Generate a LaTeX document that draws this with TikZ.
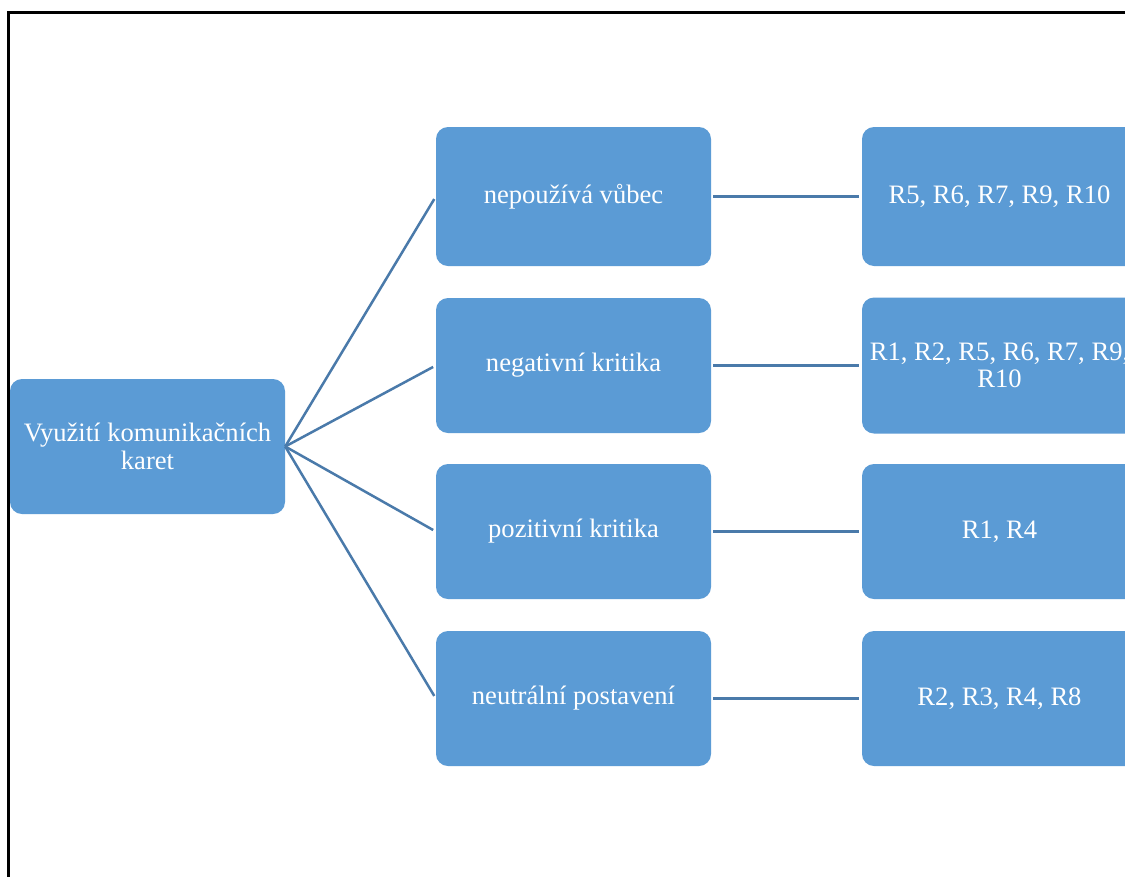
\documentclass[tikz,border=0pt]{standalone}
\usepackage{fontspec}
\setmainfont{Liberation Serif}
\definecolor{boxblue}{HTML}{5B9BD5}
\definecolor{lineblue}{HTML}{4A7AAA}
\begin{document}
\begin{tikzpicture}[x=1pt,y=-1pt,
  box/.style={fill=boxblue, draw=none, rounded corners=12pt, minimum width=275pt,
    inner sep=2pt, text=white, align=center,
    font=\fontsize{26.6}{27.5}\selectfont},
  link/.style={draw=lineblue, line width=2.5pt}]
\useasboundingbox (0,0) rectangle (1125,876);
\clip (0,0) rectangle (1125,876);
\fill[white] (0,0) rectangle (1125,876);
\draw[black, line width=2.4pt] (8.5,880) -- (8.5,12.5) -- (1130,12.5);

\node[box, minimum height=135pt] (root) at (147.5,446.5) {Využití komunikačních\\karet};

\node[box, minimum height=139pt] (m1) at (573.5,196.5) {nepoužívá vůbec};
\node[box, minimum height=135pt] (m2) at (573.5,365.5) {negativní kritika};
\node[box, minimum height=135pt] (m3) at (573.5,531.5) {pozitivní kritika};
\node[box, minimum height=135pt] (m4) at (573.5,698.5) {neutrální postavení};

\node[box, minimum height=139pt] (r1) at (999.5,196.5) {R5, R6, R7, R9, R10};
\node[box, minimum height=136pt] (r2) at (999.5,365.5) {R1, R2, R5, R6, R7, R9,\\R10};
\node[box, minimum height=135pt] (r3) at (999.5,531.5) {R1, R4};
\node[box, minimum height=135pt] (r4) at (999.5,698.5) {R2, R3, R4, R8};

\foreach \m in {m1,m2,m3,m4}{
  \draw[link, shorten >=3pt] (root.east) -- (\m.west);
}
\draw[link, shorten <=2pt, shorten >=3pt] (m1.east) -- (r1.west);
\draw[link, shorten <=2pt, shorten >=3pt] (m2.east) -- (r2.west);
\draw[link, shorten <=2pt, shorten >=3pt] (m3.east) -- (r3.west);
\draw[link, shorten <=2pt, shorten >=3pt] (m4.east) -- (r4.west);
\end{tikzpicture}
\end{document}
